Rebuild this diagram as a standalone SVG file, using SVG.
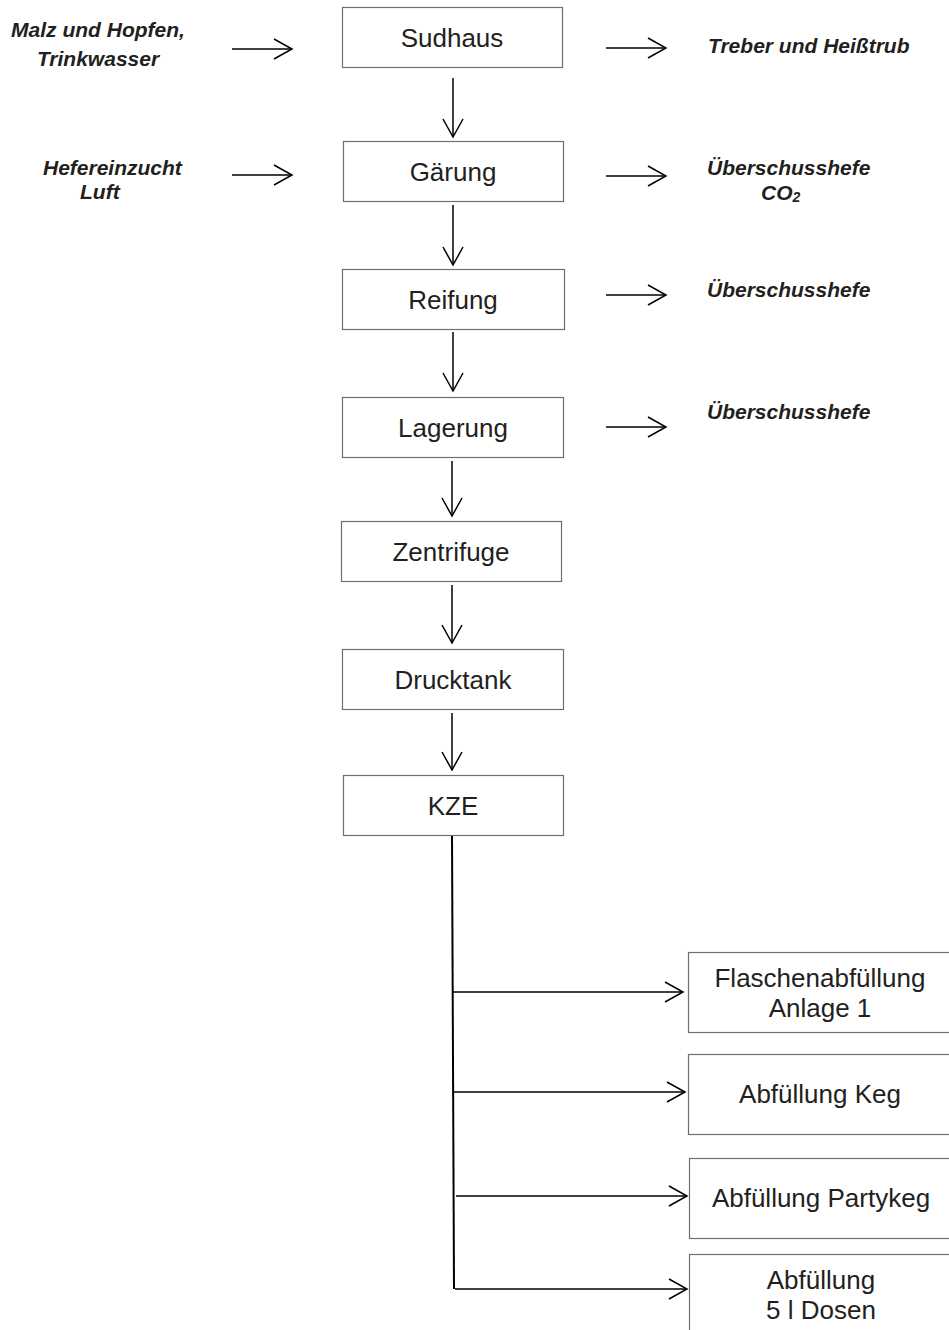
<svg xmlns="http://www.w3.org/2000/svg" width="949" height="1330" viewBox="0 0 949 1330">
<style>
.box{fill:#fff;stroke:#6e6e6e;stroke-width:1.2}
.nt{font-family:"Liberation Sans",Arial,sans-serif;font-size:26px;fill:#231f20;text-anchor:middle}
.lb{font-family:"Liberation Sans",Arial,sans-serif;font-size:21px;font-weight:bold;font-style:italic;fill:#231f20}
.c{text-anchor:middle}
.ar{stroke:#000;stroke-width:1.5;fill:none;marker-end:url(#ah)}
.tr{stroke:#000;stroke-width:2;fill:none}
</style>
<defs>
<marker id="ah" markerUnits="userSpaceOnUse" markerWidth="22" markerHeight="24" refX="19" refY="11" orient="auto" overflow="visible">
<path d="M1,1 L19,11 L1,21" fill="none" stroke="#000" stroke-width="1.5"/>
</marker>
</defs>
<rect width="949" height="1330" fill="#fff"/>

<g id="connectors">
<line class="ar" x1="232" y1="49" x2="292" y2="49"/>
<line class="ar" x1="606" y1="48" x2="666" y2="48"/>
<line class="ar" x1="232" y1="175" x2="292" y2="175"/>
<line class="ar" x1="606" y1="176" x2="666" y2="176"/>
<line class="ar" x1="606" y1="295" x2="666" y2="295"/>
<line class="ar" x1="606" y1="427" x2="666" y2="427"/>
<line class="ar" x1="453" y1="78" x2="453" y2="137"/>
<line class="ar" x1="453" y1="205" x2="453" y2="265"/>
<line class="ar" x1="453" y1="332" x2="453" y2="391"/>
<line class="ar" x1="452" y1="461" x2="452" y2="516"/>
<line class="ar" x1="452" y1="585" x2="452" y2="643"/>
<line class="ar" x1="452" y1="713" x2="452" y2="770"/>
<line class="tr" x1="452" y1="835" x2="454" y2="1289"/>
<line class="ar" x1="452" y1="992" x2="683" y2="992"/>
<line class="ar" x1="453" y1="1092" x2="685" y2="1092"/>
<line class="ar" x1="456" y1="1196" x2="687" y2="1196"/>
<line class="ar" x1="455" y1="1289" x2="687" y2="1289"/>
</g>

<g id="sudhaus"><rect class="box" x="342.5" y="7.5" width="220" height="60"/><text class="nt" x="452" y="47">Sudhaus</text></g>
<g id="gaerung"><rect class="box" x="343.5" y="141.5" width="220" height="60"/><text class="nt" x="453" y="181">Gärung</text></g>
<g id="reifung"><rect class="box" x="342.5" y="269.5" width="222" height="60"/><text class="nt" x="453" y="309">Reifung</text></g>
<g id="lagerung"><rect class="box" x="342.5" y="397.5" width="221" height="60"/><text class="nt" x="453" y="437">Lagerung</text></g>
<g id="zentrifuge"><rect class="box" x="341.5" y="521.5" width="220" height="60"/><text class="nt" x="451" y="561">Zentrifuge</text></g>
<g id="drucktank"><rect class="box" x="342.5" y="649.5" width="221" height="60"/><text class="nt" x="453" y="689">Drucktank</text></g>
<g id="kze"><rect class="box" x="343.5" y="775.5" width="220" height="60"/><text class="nt" x="453" y="815">KZE</text></g>

<g id="flaschen"><rect class="box" x="688.5" y="952.5" width="280" height="80"/><text class="nt" x="820" y="987">Flaschenabfüllung</text><text class="nt" x="820" y="1017">Anlage 1</text></g>
<g id="keg"><rect class="box" x="688.5" y="1054.5" width="280" height="80"/><text class="nt" x="820" y="1103">Abfüllung Keg</text></g>
<g id="partykeg"><rect class="box" x="689.5" y="1158.5" width="280" height="80"/><text class="nt" x="821" y="1207">Abfüllung Partykeg</text></g>
<g id="dosen"><rect class="box" x="689.5" y="1254.5" width="280" height="90"/><text class="nt" x="821" y="1289">Abfüllung</text><text class="nt" x="821" y="1319">5 l Dosen</text></g>

<g id="in-sudhaus"><text class="lb c" x="98" y="37">Malz und Hopfen,</text><text class="lb c" x="98" y="66">Trinkwasser</text></g>
<g id="out-sudhaus"><text class="lb" x="708" y="53">Treber und Heißtrub</text></g>
<g id="in-gaerung"><text class="lb" x="43" y="175">Hefereinzucht</text><text class="lb" x="80" y="199">Luft</text></g>
<g id="out-gaerung"><text class="lb" x="707" y="175">Überschusshefe</text><text class="lb" x="761" y="200">CO<tspan font-size="14" dy="2">2</tspan></text></g>
<g id="out-reifung"><text class="lb" x="707" y="297">Überschusshefe</text></g>
<g id="out-lagerung"><text class="lb" x="707" y="419">Überschusshefe</text></g>
</svg>
